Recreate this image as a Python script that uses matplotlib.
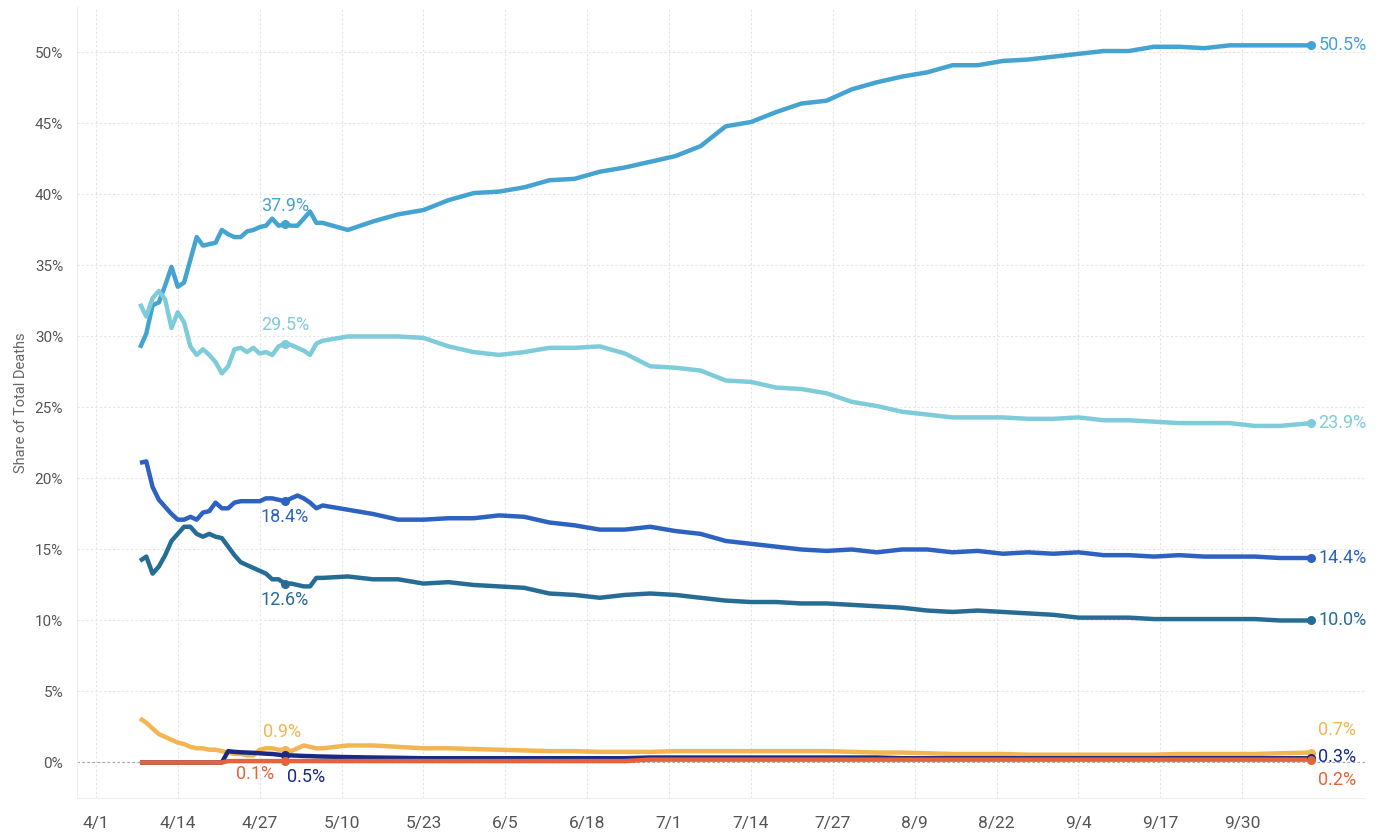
import numpy as np
import pandas as pd
import matplotlib
matplotlib.use('Agg')
import matplotlib.pyplot as plt

plt.rcParams['font.family'] = ['Roboto', 'DejaVu Sans']

# dates: daily 4/8 - 5/7, then every 4 days, last point 10/11
dates = (list(pd.date_range('2020-04-08', '2020-05-07'))
         + list(pd.date_range('2020-05-11', '2020-10-06', freq='4D'))
         + [pd.Timestamp('2020-10-11')])

share_a = [29.2, 30.2, 32.2, 32.4, 33.6, 34.9, 33.5, 33.8, 35.4, 37.0, 36.4, 36.5, 36.6, 37.5, 37.2,
           37.0, 37.0, 37.4, 37.5, 37.7, 37.8, 38.3, 37.8, 37.9, 37.8, 37.8, 38.3, 38.8, 38.0, 38.0,
           37.5, 38.1, 38.6, 38.9, 39.6, 40.1, 40.2, 40.5, 41.0, 41.1, 41.6, 41.9, 42.3, 42.7, 43.4,
           44.8, 45.1, 45.8, 46.4, 46.6, 47.4, 47.9, 48.3, 48.6, 49.1, 49.1, 49.4, 49.5, 49.7, 49.9,
           50.1, 50.1, 50.4, 50.4, 50.3, 50.5, 50.5, 50.5, 50.5]
share_b = [32.3, 31.4, 32.7, 33.2, 32.6, 30.6, 31.7, 31.0, 29.3, 28.7, 29.1, 28.7, 28.2, 27.4, 27.9,
           29.1, 29.2, 28.9, 29.2, 28.8, 28.9, 28.7, 29.3, 29.5, 29.4, 29.2, 29.0, 28.7, 29.5, 29.7,
           30.0, 30.0, 30.0, 29.9, 29.3, 28.9, 28.7, 28.9, 29.2, 29.2, 29.3, 28.8, 27.9, 27.8, 27.6,
           26.9, 26.8, 26.4, 26.3, 26.0, 25.4, 25.1, 24.7, 24.5, 24.3, 24.3, 24.3, 24.2, 24.2, 24.3,
           24.1, 24.1, 24.0, 23.9, 23.9, 23.9, 23.7, 23.7, 23.9]
share_c = [21.1, 21.2, 19.4, 18.5, 18.0, 17.5, 17.1, 17.1, 17.3, 17.1, 17.6, 17.7, 18.3, 17.9, 17.9,
           18.3, 18.4, 18.4, 18.4, 18.4, 18.6, 18.6, 18.5, 18.4, 18.6, 18.8, 18.6, 18.3, 17.9, 18.1,
           17.8, 17.5, 17.1, 17.1, 17.2, 17.2, 17.4, 17.3, 16.9, 16.7, 16.4, 16.4, 16.6, 16.3, 16.1,
           15.6, 15.4, 15.2, 15.0, 14.9, 15.0, 14.8, 15.0, 15.0, 14.8, 14.9, 14.7, 14.8, 14.7, 14.8,
           14.6, 14.6, 14.5, 14.6, 14.5, 14.5, 14.5, 14.4, 14.4]
share_d = [14.2, 14.5, 13.3, 13.8, 14.6, 15.6, 16.1, 16.6, 16.6, 16.1, 15.9, 16.1, 15.9, 15.8, 15.2,
           14.6, 14.1, 13.9, 13.7, 13.5, 13.3, 12.9, 12.9, 12.6, 12.6, 12.5, 12.4, 12.4, 13.0, 13.0,
           13.1, 12.9, 12.9, 12.6, 12.7, 12.5, 12.4, 12.3, 11.9, 11.8, 11.6, 11.8, 11.9, 11.8, 11.6,
           11.4, 11.3, 11.3, 11.2, 11.2, 11.1, 11.0, 10.9, 10.7, 10.6, 10.7, 10.6, 10.5, 10.4, 10.2,
           10.2, 10.2, 10.1, 10.1, 10.1, 10.1, 10.1, 10.0, 10.0]
share_e = [3.1, 2.8, 2.4, 2.0, 1.8, 1.6, 1.4, 1.3, 1.1, 1.0, 1.0, 0.9, 0.9, 0.8, 0.7,
           0.6, 0.6, 0.5, 0.5, 0.9, 1.0, 1.0, 0.9, 0.9, 0.8, 1.0, 1.2, 1.1, 1.0, 1.0,
           1.2, 1.2, 1.1, 1.0, 1.0, 0.95, 0.9, 0.85, 0.8, 0.8, 0.75, 0.75, 0.75, 0.8, 0.8,
           0.8, 0.8, 0.8, 0.8, 0.8, 0.75, 0.7, 0.7, 0.65, 0.6, 0.6, 0.6, 0.55, 0.55, 0.55,
           0.55, 0.55, 0.55, 0.6, 0.6, 0.6, 0.6, 0.65, 0.7]
share_f = [0.0, 0.0, 0.0, 0.0, 0.0, 0.0, 0.0, 0.0, 0.0, 0.0, 0.0, 0.0, 0.0, 0.0, 0.8,
           0.75, 0.72, 0.7, 0.68, 0.65, 0.62, 0.6, 0.55, 0.5, 0.5, 0.48, 0.46, 0.45, 0.43, 0.42,
           0.38, 0.35, 0.33, 0.3, 0.3, 0.3, 0.3, 0.3, 0.3, 0.3, 0.3, 0.3, 0.35, 0.35, 0.35,
           0.35, 0.35, 0.35, 0.35, 0.35, 0.35, 0.35, 0.3, 0.3, 0.3, 0.3, 0.3, 0.3, 0.3, 0.3,
           0.3, 0.3, 0.3, 0.3, 0.3, 0.3, 0.3, 0.3, 0.3]
share_g = [0.0, 0.0, 0.0, 0.0, 0.0, 0.0, 0.0, 0.0, 0.0, 0.0, 0.0, 0.0, 0.0, 0.0, 0.1,
           0.1, 0.1, 0.1, 0.1, 0.1, 0.1, 0.1, 0.1, 0.1, 0.1, 0.1, 0.1, 0.1, 0.1, 0.1,
           0.1, 0.1, 0.1, 0.1, 0.1, 0.1, 0.1, 0.1, 0.1, 0.1, 0.1, 0.1, 0.2, 0.2, 0.2,
           0.2, 0.2, 0.2, 0.2, 0.2, 0.2, 0.2, 0.2, 0.2, 0.2, 0.2, 0.2, 0.2, 0.2, 0.2,
           0.2, 0.2, 0.2, 0.2, 0.2, 0.2, 0.2, 0.2, 0.2]

series = [share_a, share_b, share_c, share_d, share_e, share_f, share_g]
colors = ['#44a3d1', '#7ecbd9', '#2d62c0', '#266c95', '#f2b552', '#172a85', '#e3643a']

# labelled point (5/1) index and label offsets in pixels
mid_idx = 23
mid_labels = ['37.9%', '29.5%', '18.4%', '12.6%', '0.9%', '0.5%', '0.1%']
mid_offsets = [(0, 18), (0, 19), (0, -16), (0, -16), (-3, 18), (21, -22), (-30, -13)]
end_labels = ['50.5%', '23.9%', '14.4%', '10.0%', '0.7%', '0.3%', '0.2%']
end_offsets = [(0, 0), (0, 0), (0, 0), (0, 0), (0, 23), (0, 1), (0, -20)]

xtick_dates = pd.date_range('2020-04-01', periods=15, freq='13D')
ytick_vals = list(range(0, 55, 5))

fig = plt.figure(figsize=(13.83, 8.33), dpi=100)
ax = fig.add_axes([77/1383, 1-798/833, (1365-77)/1383, (798-7)/833])

ax.axhline(0, color='#aaaaaa', lw=0.9, ls=(0, (2, 2)), zorder=1)
for s, c in zip(series, colors):
    ax.plot(dates, s, color=c, lw=3.2, solid_joinstyle='round', solid_capstyle='butt', zorder=3)

for s, c, lab, off in zip(series, colors, mid_labels, mid_offsets):
    ax.plot(dates[mid_idx], s[mid_idx], 'o', color=c, ms=5.5, zorder=4)
    ax.annotate(lab, (dates[mid_idx], s[mid_idx]), xytext=off, textcoords='offset pixels',
                ha='center', va='center', color=c, fontsize=13)

for s, c, lab, off in zip(series, colors, end_labels, end_offsets):
    ax.plot(dates[-1], s[-1], 'o', color=c, ms=5.5, zorder=4)
    ax.annotate(lab, (dates[-1], s[-1]), xytext=(7 + off[0], off[1]), textcoords='offset pixels',
                ha='left', va='center', color=c, fontsize=13)

base = pd.Timestamp('2020-04-01')
ax.set_xlim(base - pd.Timedelta(days=3), base + pd.Timedelta(days=201.5))
ax.set_ylim(-2.5, 53.2)
ax.set_xticks(xtick_dates)
ax.set_xticklabels([f'{d.month}/{d.day}' for d in xtick_dates])
ax.set_yticks(ytick_vals)
ax.set_yticklabels([f'{v}%' for v in ytick_vals])
ax.tick_params(axis='x', length=0, pad=13, labelsize=12.5, labelcolor='#555555')
ax.tick_params(axis='y', length=0, pad=10, labelsize=11, labelcolor='#555555')
ax.grid(color='#e4e4e4', lw=0.8, ls=(0, (2, 2)))
ax.set_axisbelow(True)
for side in ['top', 'right']:
    ax.spines[side].set_visible(False)
for side in ['left', 'bottom']:
    ax.spines[side].set_color('#eeeeee')
ax.set_ylabel('Share of Total Deaths', fontsize=10.5, color='#666666', labelpad=5)

fig.savefig('out.png', dpi=100)
